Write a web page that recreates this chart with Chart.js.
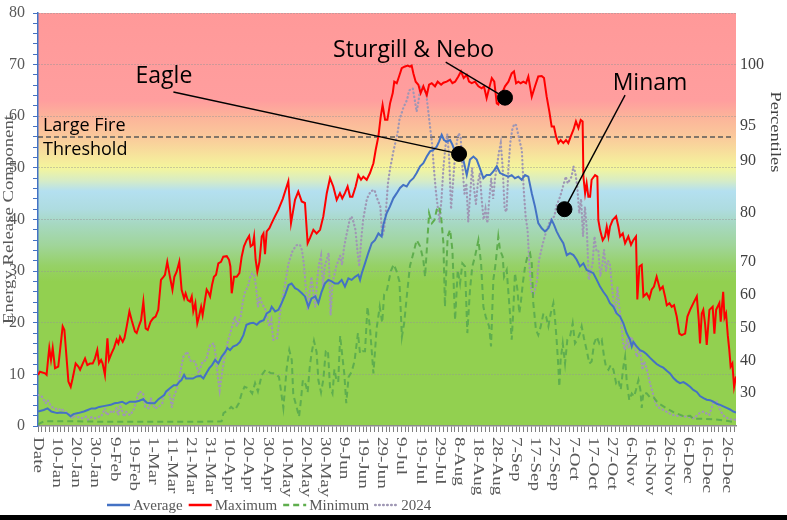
<!DOCTYPE html>
<html><head><meta charset="utf-8">
<script src="https://cdn.jsdelivr.net/npm/chart.js@4.4.1/dist/chart.umd.min.js"></script>
<style>html,body{margin:0;padding:0;background:#fff;}#wrap{width:787px;height:520px;position:relative;}</style>
</head><body><div id="wrap"><canvas id="c"></canvas></div>
<script>
// ---- category tick labels (every 10th day, day 0 = "Date") ----
const tickLabels = ["Date","10-Jan","20-Jan","30-Jan","9-Feb","19-Feb","1-Mar","11-Mar","21-Mar","31-Mar","10-Apr","20-Apr","30-Apr","10-May","20-May","30-May","9-Jun","19-Jun","29-Jun","9-Jul","19-Jul","29-Jul","8-Aug","18-Aug","28-Aug","7-Sep","17-Sep","27-Sep","7-Oct","17-Oct","27-Oct","6-Nov","16-Nov","26-Nov","6-Dec","16-Dec","26-Dec"];
const tickDays = tickLabels.map((_, i) => i * 10);

// ---- right axis: percentile labels and the ERC value where each sits ----
const percentileLabels = ["100","95","90","80","70","60","50","40","30"];
const percentileErc = [70, 58.1, 51.3, 41.3, 31.8, 25.4, 19.0, 12.6, 6.4];

const largeFireThreshold = 56;

// ---- series: [day of year, ERC] ----
const averageSeries = [[0,2.8],[3,3.1],[5,3.4],[7,2.8],[10,2.5],[12,2.6],[15,2.5],[17,1.9],[18.5,2.3],[21,2.5],[24,2.8],[26,3.1],[28,3.4],[30,3.4],[32,3.7],[35,3.9],[38,4.1],[40,4.4],[42,4.5],[44,4.7],[46,4.3],[48,4.7],[51,4.7],[53,4.9],[55,5.2],[57,4.5],[59,4.4],[61,4.4],[63,5.2],[66,6],[67,6.7],[69,7.3],[71,7.9],[72.5,7.9],[74,8.6],[75,8.9],[76.4,9.9],[77.4,9.2],[79,9.2],[81,9.2],[83,9.6],[85,9.7],[86.5,9.2],[88,10.2],[89.6,11.2],[91,11.8],[92.6,12.8],[94.3,12.1],[96,13.4],[98,14.4],[99,15.1],[100.4,14.7],[102,15.4],[104,15.7],[105.6,16.3],[107.4,17.6],[109,19.6],[111,19.9],[112.6,20],[114.4,19.6],[116,20.2],[118,20.5],[119.6,21.8],[121.3,22.2],[122.2,23.1],[124,22.2],[125.7,22.5],[127.4,23.8],[129.2,25.4],[131,27.3],[132.6,27.6],[134.4,26.7],[136,26.4],[138,25.7],[139.6,25.1],[141.4,23.1],[143,24.7],[145,25.1],[146.6,23.8],[148.3,26],[150,27.6],[151.8,28.3],[153.6,28],[155.3,27.6],[157,27.6],[158.8,28.3],[160.5,27],[162.3,28.6],[164,28.3],[165.8,28.9],[167.5,29.3],[168.4,28.3],[169.3,29.6],[171,31.5],[172.7,33.5],[174.5,35.4],[176.2,36],[178,37.3],[179.7,36.7],[180.6,39],[182.3,41.2],[184,42.5],[185.8,44.1],[187.6,45.1],[189.3,46.1],[191,46.7],[192.8,46.4],[194.5,47.4],[196.3,48],[198,49],[199.8,50.3],[201.5,50.9],[203.3,52.2],[205,53.2],[206.7,53.5],[208.5,54.1],[209.7,55.1],[211.1,56.4],[212.3,55.4],[213.7,55.1],[215.5,55.4],[216.7,54.5],[218.4,52.8],[220,52.3],[222.4,51.6],[224.2,48.6],[225.9,51.6],[227.7,52.2],[229.4,51.6],[231.1,49.9],[232.9,48],[234.6,48.6],[236.4,48.6],[238.1,49.3],[239.9,50.3],[241.6,49],[244,48.6],[246,48.3],[247.7,48.6],[249.4,48],[251.2,48.3],[252.9,47.7],[254.7,48.6],[256.4,48.3],[258.2,45.1],[259.9,42.5],[261.6,39.3],[263.4,38.3],[265.1,37.7],[266.9,38.3],[268.6,39.9],[269.8,39],[271.2,37.7],[273,36.4],[274.7,35.4],[276.5,33.1],[278.2,33.5],[280,33.1],[281.7,32.2],[283.4,30.9],[285.2,31.5],[286.9,30.2],[288.7,29.9],[290.4,29.6],[292.2,28.3],[293.9,27],[295.6,26],[297.4,25.1],[299.1,23.8],[300.9,23.1],[302.6,21.8],[304.4,21.2],[306.1,19.9],[307.8,18],[309.6,16.7],[310.5,15.4],[311.3,16.3],[313.1,15.4],[314.8,14.7],[316.6,14.4],[318.3,13.9],[320.1,13.2],[321.8,12.6],[323.5,12],[325.3,11.6],[327,11.3],[328.8,10.7],[330.5,10.2],[332.3,9.3],[334,8.7],[335.7,8.3],[337.5,8.5],[339.2,8.1],[341,7.6],[342.7,7],[344.5,6.6],[346.2,5.8],[348,5.4],[349.7,5.1],[351.4,5],[353.2,4.7],[354.9,4.3],[356.7,4.1],[358.4,3.8],[360.1,3.5],[361.9,3.2],[363.6,2.8],[365,2.6]];

const maximumSeries = [[0,9.9],[1,10.5],[3.7,10.2],[4.5,9.9],[5.4,13.4],[5.9,15.1],[6.8,12.8],[7.7,15.1],[8.9,11.2],[10.6,11.5],[12.9,19.3],[13.8,18.6],[15.9,8.6],[17.1,7.6],[18.1,9.2],[19.7,12.1],[21.1,11.5],[22,10.9],[23.4,12.1],[24.6,13.1],[25.8,11.8],[27.2,12.1],[28.6,12.1],[29.8,13.1],[31,14.7],[31.9,12.1],[33,12.8],[33.8,12.1],[35,9.9],[36.3,17],[37.1,12.8],[38.5,14.1],[39.7,15.1],[41.1,16.7],[42,16],[42.9,17.3],[44.3,16.3],[45.2,17],[46.4,19.3],[47.8,22.2],[49,20.5],[50.7,18.3],[51.6,18],[53,19.6],[53.9,20.5],[55.1,24.1],[56.3,18.9],[57.4,18.6],[58.9,20.2],[60.3,20.9],[61.5,21.2],[62.9,22.5],[64.3,28.3],[65.6,28.9],[66.4,29.3],[67.6,31.8],[69,28.9],[70.3,26.4],[71.3,28.9],[72.5,29.9],[73.9,31.8],[75.1,26.4],[76.4,24.7],[77.2,25.7],[78.3,24.4],[79.5,24.1],[80.4,25.1],[81.2,22.2],[82.3,23.8],[83.3,19.9],[84.2,21.2],[85.3,23.1],[86.1,21.5],[87.3,24.4],[88.2,26.4],[89.3,25.7],[90,25.1],[91,27.3],[92,28.9],[93.1,29.3],[94.3,31.5],[95.7,31.8],[96.9,32.8],[98.7,32.9],[99.9,32.2],[100.6,30.9],[101.3,25.7],[102.5,28.9],[103.9,28.9],[105.3,29.6],[106.5,32.8],[107.7,34.8],[109.1,36],[110.4,36.8],[111.2,34.8],[112.3,35.1],[113,36.7],[113.8,32.2],[114.7,29.9],[115.8,31.8],[117,36.7],[117.9,37.3],[118.7,33.3],[119.6,37.7],[121,38.3],[122.2,39.3],[123.9,40.6],[125.7,41.9],[128,44],[130.9,47.4],[132.3,39.3],[134.4,43.8],[136.1,45.4],[137.9,43.5],[139.6,43.2],[141,35.4],[142.2,36.4],[144,38],[145.7,37.3],[147.5,38],[149.2,40.6],[151,45.1],[152.7,48],[154.4,46.4],[156.2,43.8],[157.9,45.1],[159.1,44.1],[160.5,45.1],[161.9,46.4],[163.2,44.4],[164.4,44.4],[166.1,46.4],[167.5,48.6],[168.9,47.7],[170.1,48.3],[171.9,47.7],[173.6,49],[175.4,50.9],[176.6,53.5],[178,56.1],[179.2,59.9],[180.2,62.2],[181.5,59.3],[182.7,59.3],[184.1,62.5],[185.5,64.5],[186.3,66.7],[187.6,66.4],[188.8,67.7],[190.2,69.3],[191.6,69.6],[193.3,69.8],[194.5,69.6],[195.4,69.8],[196.3,68.3],[197.5,66.7],[198.9,66.1],[200.1,64.5],[201.5,65.8],[203.3,64.1],[204.5,66.1],[205.9,66.4],[207.6,65.8],[209,66.7],[210.8,66.1],[212,66.5],[213.7,66.7],[215.5,67.1],[216.7,66.4],[218.1,66.7],[219.8,67.7],[221.2,68.7],[222.6,67.4],[224.2,68],[225.4,66.7],[226.8,66.4],[228.5,66.7],[230.3,65.8],[232,65.4],[233.2,65.8],[234.6,63.5],[235.9,65.4],[237.3,67.4],[238.6,66.7],[239.9,62.5],[240.7,62.3],[241.6,63.5],[244.2,65.8],[246,66.7],[247.7,68.3],[248.9,68.7],[250,66.4],[251.2,66.7],[252.4,66.4],[253.8,66.7],[255.2,66.4],[256.4,67.7],[258.2,63.8],[259.9,65.8],[261.6,67.7],[263.4,67.8],[264.6,67.4],[266,63.8],[267.4,60.9],[268.6,58],[269.8,58],[270.9,56.1],[272.1,54.8],[273.3,55.4],[274.7,54.8],[276.1,55.4],[277.3,54.8],[278.6,56.1],[280,57.4],[281.3,59],[282.6,57.7],[283.8,59.3],[284.8,59],[285.2,48.3],[286.1,45.1],[286.9,47],[287.8,44.4],[288.7,44.4],[289.5,47.7],[291.3,48.6],[292.5,48.3],[293,39.9],[293.9,38],[295.3,36],[296.5,36.7],[297.4,38.6],[298.3,36.7],[299.1,38.6],[300.5,39.9],[302.3,40.6],[303.5,38.6],[304.4,36.7],[305.8,37.3],[307,35.4],[308.7,36.7],[310.1,35.1],[311.3,36],[312.7,36.7],[313.4,24.5],[314.5,30.9],[315.7,31.2],[316.6,25.1],[318.3,25.7],[319.7,24.7],[320.9,26.4],[322.1,27],[323.5,28.9],[325.3,26.4],[326.7,27],[327.9,25.1],[328.8,23.4],[330.2,23.8],[331.4,23.1],[332.6,23.4],[334,21.2],[335.4,17.9],[336.6,17.6],[338.4,17.9],[339.6,21.2],[341,22.5],[342.7,23.8],[344.5,25.1],[345.5,20.6],[346.2,16],[347.1,21.8],[347.9,22.5],[348.8,19.9],[349.7,15.7],[351.1,22.5],[352.8,23.1],[353.7,17.9],[354.6,22.5],[356.3,23.8],[357,20.2],[358.3,26],[359,21],[359.8,21.8],[360.7,17.6],[361.5,14.7],[362.2,11.5],[363.1,12.1],[364,7.6],[365,9.6]];

const minimumSeries = [[0,0.3],[3,0.9],[20,0.9],[40,0.8],[60,0.8],[80,0.8],[96,0.9],[97,2.5],[99.5,3.1],[101,3.7],[103,3.1],[105,4.4],[106.5,6.3],[108,7.6],[110,7.3],[112,6.3],[113.5,8.3],[115,6.7],[117,9.9],[119,10.9],[120.5,10.5],[122,10.2],[124,10.2],[126,9.5],[127,7],[128.3,3.5],[130,11],[131.4,14.7],[132.7,12.8],[133.5,6],[135,4],[136.5,1.8],[137.5,5],[138.5,8.9],[140,8],[141,6.5],[142,11],[143,14],[144.3,16.5],[145.7,14.3],[146.6,8.9],[148,6.5],[149.2,9],[150.5,14.5],[151.6,14.7],[152.7,7.5],[154,6.3],[155,11],[156,9],[157,8.5],[158,17.5],[159,14],[160.2,10],[161.2,4.4],[162.4,9.5],[164,10.5],[165.5,12.5],[167.3,18],[168.4,14],[169.8,14.5],[171,14.5],[172.3,23.1],[173.6,19],[175.4,10.2],[177.1,19],[178.7,23.1],[180,20],[181,25.5],[182.5,26.4],[184.5,30],[186,31.3],[187.5,30],[189,28],[190.3,17.3],[191.5,20],[193,25.7],[194.5,31],[196.3,33.5],[198,36],[199.8,34.8],[201.5,32.2],[202.4,28.9],[203.3,34.1],[204.5,41.2],[206,39.3],[207.3,39.9],[208.5,41.9],[209.7,42.5],[210.8,40.6],[212,35.4],[212.8,23.1],[214.2,36.7],[215.5,38],[216.7,34.1],[218.1,20.5],[219.5,30.2],[220.7,27.6],[221.9,31.5],[223.3,30.9],[224.5,18],[225.9,26.4],[227.1,30.9],[228.5,32.8],[230.3,36],[231.7,31.5],[232.9,23.1],[234.1,21.2],[235.9,19.3],[236.9,15.4],[238.1,28.3],[239.3,31.5],[240.7,36.7],[241.6,34.1],[243,32.8],[243.7,28.9],[245.1,30.2],[246.8,21.8],[247.7,16.7],[248.5,22],[249.4,29.6],[250.7,26.4],[251.7,21.8],[252.5,24],[253.5,27.6],[254.7,30.9],[255.9,32.8],[257.3,33.5],[258.2,31.5],[259,23.8],[260.4,18.6],[261.6,17.6],[262.9,19.3],[264.3,21.8],[265.7,21.2],[266.9,19.3],[268.1,21.8],[269.5,23.8],[270.3,21],[271.2,16.7],[272.1,11.5],[272.6,7.6],[273.3,12.8],[274.4,16],[275.6,12.1],[276.8,16.7],[278.2,17.3],[279.6,19.9],[280.8,16],[282,16.7],[283.4,18],[284.3,19.3],[285.5,17],[286.9,14.7],[288.3,12.1],[289.5,12.5],[290.8,16],[292.2,17.3],[293.5,16],[294.8,16.7],[296,13.4],[297,11.5],[298.3,10.9],[299.5,11.8],[300.9,10.9],[302.3,8.3],[303.5,8.9],[304.7,7],[306.1,11.5],[307,13.4],[307.8,8.9],[309.2,5],[310.5,6.3],[311.7,5.7],[312.7,7],[314,8.9],[315,7],[315.7,3.5],[316.6,6.5],[318.3,6.3],[320.1,5.5],[322,5.5],[323.5,4.8],[325.3,4.2],[328.8,3.4],[332.3,2.7],[337.5,1.9],[341,2],[342.7,1.4],[346.2,1.4],[353.2,1.3],[360.1,1],[363.6,0.8],[365,0.8]];

const series2024 = [[0,6],[2,5.7],[4,4.4],[5,5],[7,3.7],[9,3.4],[11,3.1],[12,3.4],[14,2.8],[16,2.5],[18,1.5],[19,1.9],[21,1.7],[23,1.5],[25,1.8],[26,1.2],[28,1.7],[30,1.5],[32,1.8],[33,1.8],[35,3.4],[36,2.1],[38,2.8],[39,2.5],[41,3.4],[42,2.1],[43,4.1],[45,1.8],[46,2.8],[48,2.1],[50,3.1],[52,5.7],[53,6.7],[55,6.3],[56,3.7],[58,3.4],[59,5.4],[61,3.4],[63,3.7],[65,4.4],[66,6.3],[68,7],[69,5.7],[70,3.7],[71,5.7],[73,7.6],[74,9.6],[75,11.5],[76,13.4],[78,14.4],[79,13.4],[80,12.5],[82,12.5],[83,11.5],[84,10.2],[86,12.4],[88,12.8],[89,14.4],[90,15.7],[92,16],[93,13.4],[94,9.6],[95,7],[96,9.6],[97,12.1],[98,14.1],[99,16],[100,17.3],[102,19.9],[103,21.2],[104,19.3],[106,21.2],[107,23.8],[108,25.7],[110,27.3],[111,28.9],[112,29.6],[113,29.3],[114,27],[115,23.1],[116,25.1],[117,23.8],[119,22.5],[121,19.3],[122,20.5],[123,16.7],[125,17],[127,23.1],[129,27],[131,31.5],[133,33.8],[135,35],[137,35.1],[138,34.1],[139,31.5],[140,27],[141,22.5],[142,25.7],[143,28.9],[144,25.7],[145,23.1],[146,28.3],[147,31.5],[148,33],[149,27],[150,31],[152,33.5],[153,21.5],[154,27.6],[156,31],[158,33],[159,31.2],[160,34.5],[161,36.5],[163,40],[164,40.6],[165,39.5],[166,38],[167,34],[168,30.9],[169,36],[170,39.9],[171,42],[172,44],[174,45.5],[176,45.7],[177,44.4],[179,42.5],[180,36.7],[181,38],[182,42],[183,47],[184,49.6],[186,53.5],[188,56.7],[189,59.3],[191,61.6],[193,63.2],[194,65],[196,65.4],[197,63.2],[198,60.9],[199,63],[200,65.8],[202,65],[203,64.5],[204,61.2],[205,58],[206,55],[207,50],[208,45.7],[209,42.5],[210,39.5],[211,44],[212,50],[213,54],[214,56.5],[215,52],[216,42],[217,47],[218,52],[219,55],[220,56.7],[221,56],[222,50],[223,45],[224,47],[225,39.5],[226,45],[227,50],[228,46],[229,43],[230,47],[231,49],[232,44],[233,40],[234,42],[235,39.3],[236,44],[237,48],[238,44],[239,48],[240,50.3],[241,53],[242,54.8],[243,50],[244,42],[245,41.5],[246,50],[247,55],[248,57.4],[249,58.5],[250,58.3],[251,56.7],[252,55],[253,53.5],[254,45.7],[255,40.6],[256,38],[257,31],[258,26.4],[259,25.1],[261,28.3],[262,32.2],[264,35.4],[266,38],[268,39.9],[270,40.6],[271,42.5],[273,44.4],[275,47],[276,48.3],[277,47],[279,48.3],[280,50.3],[281,49],[282,46.4],[283,41.2],[284,44],[285,36.7],[286,42.5],[287,38],[288,28.3],[290,31.5],[291,36.7],[292,34],[293,34.1],[294,29],[295,31],[296,34.1],[297,30],[298,32],[299,31.5],[300,27.6],[301,23.8],[302,21.8],[303,26.9],[304,23],[305,19.9],[306,16],[307,14.7],[308,17],[309,15],[310,17.3],[312,16],[313,13.4],[315,14.7],[316,10.9],[317,12.5],[318,11.5],[320,8.3],[321,7],[323,4.4],[324,3.7],[327,3.1],[330,2.5],[332,2.1],[336,1.9],[340,1.8],[343,1.5],[346,2.5],[348,2.8],[351,2.1],[353,4.4],[355,4.7],[357,2.8],[359,1.8],[362,1.3],[365,1.2]];

// ---- fire annotations (day, ERC) ----
const fireNotes = [
  {name:"Eagle",           dotDay:220.2, dotErc:52.7, fromDay:70.8,  fromErc:64.7, textDay:51.0,  textErc:66.5},
  {name:"Sturgill & Nebo", dotDay:244.2, dotErc:63.6, fromDay:213.2, fromErc:70.5, textDay:154.3, textErc:71.5},
  {name:"Minam",           dotDay:275.3, dotErc:42.0, fromDay:307.0, fromErc:64.1, textDay:300.5, textErc:65.1}
];
const thresholdText = [{text:"Large Fire", day:2.6, erc:57.2},{text:"Threshold", day:2.6, erc:52.5}];

// ---- styles ----
const SERIF = '"Liberation Serif", "Times New Roman", serif';
const SANS = '"Open Sans", Lato, sans-serif';
const bgStops = [[80,'#FF9999'],[63,'#FF9E9E'],[60,'#FCB39A'],[56,'#FAC99B'],[52,'#F6E79C'],[50,'#F4F59C'],[47.5,'#D6ECC6'],[45.5,'#B4E0F0'],[42,'#AEDCE0'],[39,'#A6D8C0'],[35,'#A0D59A'],[31,'#96D166'],[28,'#92D050'],[0,'#92D050']];

const toXY = a => a.map(p => ({x:p[0], y:p[1]}));
const noPad = s => { s.paddingTop = 0; s.paddingBottom = 0; s.paddingLeft = 0; s.paddingRight = 0; };

const decorPlugin = {
  id:'decor',
  beforeDraw(chart){
    const {ctx, chartArea:a} = chart; const ys = chart.scales.y;
    ctx.save();
    const g = ctx.createLinearGradient(0, ys.getPixelForValue(80), 0, ys.getPixelForValue(0));
    bgStops.forEach(s => g.addColorStop((80 - s[0]) / 80, s[1]));
    ctx.fillStyle = g;
    ctx.fillRect(a.left, a.top, a.right - a.left, a.bottom - a.top);
    ctx.restore();
  },
  beforeDatasetsDraw(chart){
    const {ctx, chartArea:a} = chart; const ys = chart.scales.y;
    const y = ys.getPixelForValue(largeFireThreshold);
    ctx.save();
    ctx.strokeStyle = '#595959'; ctx.lineWidth = 1.5; ctx.setLineDash([5,3]);
    ctx.beginPath(); ctx.moveTo(a.left, y); ctx.lineTo(a.right - 2, y); ctx.stroke();
    ctx.restore();
  },
  afterDatasetsDraw(chart){
    const {ctx} = chart; const xs = chart.scales.x, ys = chart.scales.y;
    ctx.save();
    ctx.strokeStyle = '#000'; ctx.lineWidth = 1.4;
    fireNotes.forEach(f => {
      ctx.beginPath();
      ctx.moveTo(xs.getPixelForValue(f.fromDay), ys.getPixelForValue(f.fromErc));
      ctx.lineTo(xs.getPixelForValue(f.dotDay), ys.getPixelForValue(f.dotErc));
      ctx.stroke();
    });
    ctx.fillStyle = '#000'; ctx.textAlign = 'left'; ctx.textBaseline = 'alphabetic';
    ctx.font = '23px ' + SANS;
    fireNotes.forEach(f => ctx.fillText(f.name, xs.getPixelForValue(f.textDay), ys.getPixelForValue(f.textErc)));
    ctx.font = '18px ' + SANS;
    thresholdText.forEach(t => ctx.fillText(t.text, xs.getPixelForValue(t.day), ys.getPixelForValue(t.erc)));
    ctx.restore();
  },
  afterDraw(chart){
    const {ctx} = chart; const xs = chart.scales.x, ys = chart.scales.y;
    ctx.save();
    // x tick labels, rotated to read downward
    ctx.fillStyle = '#595959'; ctx.font = '15px ' + SERIF;
    ctx.textAlign = 'left'; ctx.textBaseline = 'middle';
    tickLabels.forEach((lab, i) => {
      ctx.save();
      ctx.translate(xs.getPixelForValue(tickDays[i]), xs.top + 11);
      ctx.rotate(Math.PI / 2); ctx.scale(1.27, 1);
      ctx.fillText(lab, 0, 0);
      ctx.restore();
    });
    // left axis title
    ctx.save(); ctx.textAlign = 'center'; ctx.translate(9.5, (ys.top + ys.bottom) / 2);
    ctx.rotate(-Math.PI / 2); ctx.scale(1.25, 1); ctx.fillText('Energy Release Component', 0, 0); ctx.restore();
    // right axis title
    ctx.save(); ctx.fillStyle = '#404040'; ctx.textAlign = 'center'; ctx.translate(775, 132);
    ctx.rotate(Math.PI / 2); ctx.scale(1.23, 1); ctx.fillText('Percentiles', 0, 0); ctx.restore();
    // legend
    let x = 107; const ly = 505;
    ctx.font = '15px ' + SERIF; ctx.textBaseline = 'middle'; ctx.textAlign = 'left';
    chart.data.datasets.slice(0, 4).forEach(ds => {
      ctx.save(); ctx.strokeStyle = ds.borderColor; ctx.lineWidth = 2.5;
      ctx.setLineDash(ds.borderDash || []); ctx.lineCap = ds.borderCapStyle || 'butt';
      ctx.beginPath(); ctx.moveTo(x, ly); ctx.lineTo(x + 23, ly); ctx.stroke(); ctx.restore();
      ctx.fillStyle = '#595959'; ctx.fillText(ds.label, x + 26, ly + 1);
      x += 26 + ctx.measureText(ds.label).width + 6;
    });
    // bottom frame band
    ctx.fillStyle = '#000'; ctx.fillRect(0, 515, 787, 5);
    ctx.restore();
  }
};

new Chart(document.getElementById('c'), {
  type:'line',
  data:{ datasets:[
    {label:'Average', data:toXY(averageSeries), borderColor:'#4472C4', borderWidth:2, pointRadius:0, tension:0, order:1},
    {label:'Maximum', data:toXY(maximumSeries), borderColor:'#FF0000', borderWidth:2, pointRadius:0, tension:0, order:2},
    {label:'Minimum', data:toXY(minimumSeries), borderColor:'#5FAE4E', borderDash:[6,4], borderWidth:2, pointRadius:0, tension:0, order:3},
    {label:'2024', data:toXY(series2024), borderColor:'#9F97B4', borderDash:[0.5,3.5], borderCapStyle:'round', borderWidth:2.2, pointRadius:0, tension:0, order:4},
    {label:'fires', type:'scatter', data:fireNotes.map(f => ({x:f.dotDay, y:f.dotErc})), pointRadius:7.5, pointHoverRadius:7.5, backgroundColor:'#000', borderColor:'#000', order:0}
  ]},
  options:{
    responsive:true, maintainAspectRatio:false, animation:false, devicePixelRatio:1,
    layout:{padding:{top:13, left:0, right:0, bottom:0}},
    plugins:{legend:{display:false}, tooltip:{enabled:false}},
    events:[],
    scales:{
      x:{type:'linear', min:0, max:365,
        afterBuildTicks:s => { const t=[]; for (let d=0; d<=364; d+=2) t.push({value:d}); s.ticks=t; },
        ticks:{display:false, autoSkip:false},
        grid:{drawOnChartArea:false, drawTicks:true, tickLength:6, tickColor:'#7F7F7F', tickWidth:1},
        border:{display:true, color:'#8C8C8C', width:1.5},
        afterFit:s => { s.height = 94; noPad(s); }
      },
      y:{position:'left', min:0, max:80,
        afterBuildTicks:s => { const t=[]; for (let v=0; v<=80; v+=2) t.push({value:v}); s.ticks=t; },
        ticks:{autoSkip:false, padding:8, color:'#595959', font:{family:SERIF, size:16},
          callback:v => (v % 10 === 0 ? String(v) : '')},
        grid:{drawTicks:true, tickLength:5, tickColor:'#4472C4', tickWidth:1, lineWidth:1,
          color:c => (c.tick && c.tick.value % 10 === 0 && c.tick.value > 0) ? 'rgba(150,150,150,0.9)' : 'rgba(0,0,0,0)'},
        border:{display:true, color:'#4472C4', width:1.5, dash:[1,2]},
        afterFit:s => { s.width = 38; noPad(s); }
      },
      y2:{position:'right', min:0, max:80,
        afterBuildTicks:s => { s.ticks = percentileErc.map(v => ({value:v})); },
        ticks:{autoSkip:false, padding:4, color:'#404040', font:{family:SERIF, size:16},
          callback:(v, i) => percentileLabels[i]},
        grid:{display:false, drawTicks:false},
        border:{display:false},
        afterFit:s => { s.width = 51; noPad(s); }
      }
    }
  },
  plugins:[decorPlugin]
});
</script>
</body></html>
